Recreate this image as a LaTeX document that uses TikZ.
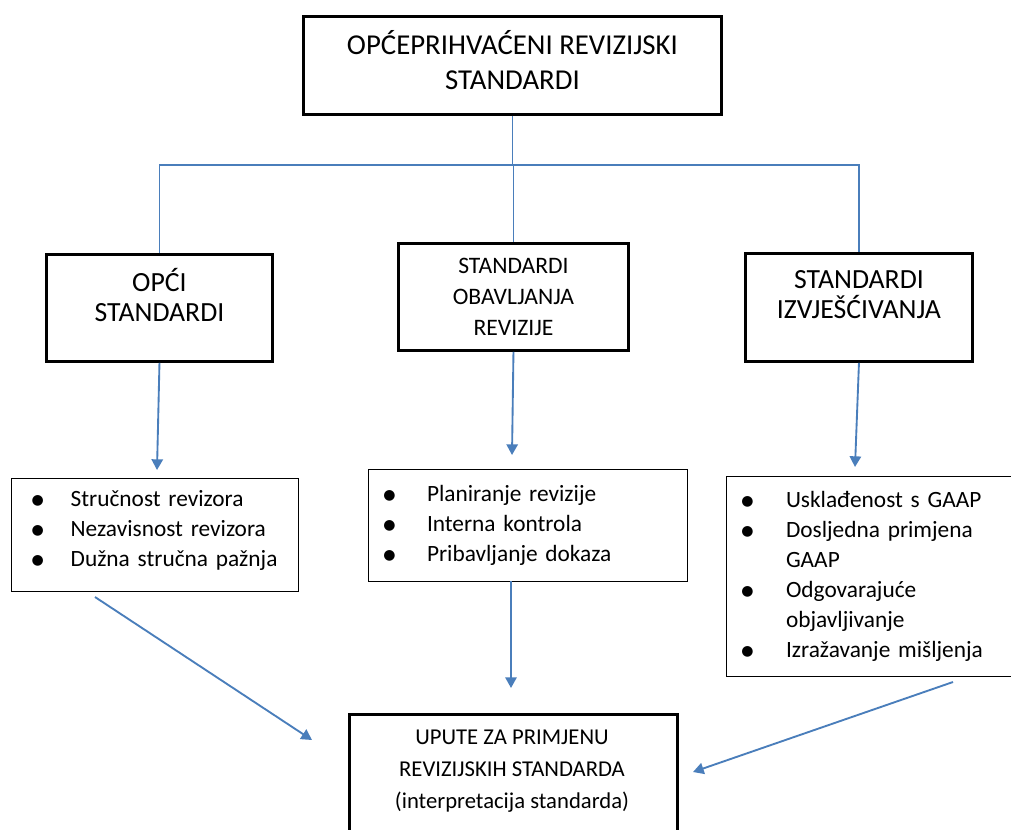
\documentclass[tikz,border=0pt]{standalone}
\usepackage{fontspec}
\setmainfont{Carlito}
\newfontfamily\symfont{DejaVu Sans}
\usetikzlibrary{arrows.meta}

\definecolor{linkblue}{RGB}{74,126,187}
% indent, then bullet in a box of given width
\newcommand{\itm}[2]{\hspace*{#1}\makebox[#2][l]{\raisebox{1.6pt}{\symfont\fontsize{10.5}{0}\selectfont ●}}}

\tikzset{
  headbox/.style={draw, line width=2.2pt, align=center, inner sep=0pt, anchor=north west},
  listbox/.style={draw, line width=1pt, align=left, inner sep=0pt, anchor=north west,
    font=\fontsize{17.5}{22.5}\selectfont},
  link/.style={linkblue, line width=1.4pt},
  arrowlink/.style={link, -{Triangle[length=8pt,width=8.5pt]}},
}

\begin{document}
\begin{tikzpicture}[x=0.75pt,y=0.75pt,yscale=-1,xscale=1]
    \useasboundingbox (0,0) rectangle (1011,829);

    % Top box
    \node[headbox, minimum width=313.5pt, minimum height=73.5pt, text depth=7.5pt,
      font=\fontsize{21.6}{26.25}\selectfont] (top) at (302,15)
      {OPĆEPRIHVAĆENI REVIZIJSKI\\STANDARDI};

    % Three groups of standards
    \node[headbox, minimum width=169.5pt, minimum height=80.25pt, text depth=19.5pt,
      font=\fontsize{20.8}{22.5}\selectfont] (opci) at (45,253)
      {OPĆI\\STANDARDI};
    \node[headbox, minimum width=172.5pt, minimum height=80.25pt,
      font=\fontsize{17.7}{23}\selectfont] (obav) at (397,242)
      {STANDARDI\\OBAVLJANJA\\REVIZIJE};
    \node[headbox, minimum width=170.25pt, minimum height=81pt, text depth=19.5pt,
      font=\fontsize{20.8}{22.5}\selectfont] (izv) at (744,252)
      {STANDARDI\\IZVJEŠĆIVANJA};

    % Lists
    \node[listbox, text width=215.25pt, minimum height=84.75pt, text depth=55pt]
      (list1) at (11,478)
      {\itm{15pt}{29.25pt}Stručnost revizora\\
       \itm{15pt}{29.25pt}Nezavisnost revizora\\
       \itm{15pt}{29.25pt}Dužna stručna pažnja};
    \node[listbox, text width=239.25pt, minimum height=84pt] (list2) at (368,469)
      {\itm{11pt}{32.75pt}Planiranje revizije\\
       \itm{11pt}{32.75pt}Interna kontrola\\
       \itm{11pt}{32.75pt}Pribavljanje dokaza};
    \node[listbox, text width=215.25pt, minimum height=150pt] (list3) at (726,476)
      {\itm{11pt}{33.5pt}Usklađenost s GAAP\\
       \itm{11pt}{33.5pt}Dosljedna primjena\\
       \hspace*{44.5pt}GAAP\\
       \itm{11pt}{33.5pt}Odgovarajuće\\
       \hspace*{44.5pt}objavljivanje\\
       \itm{11pt}{33.5pt}Izražavanje mišljenja};

    % Bottom box
    \node[headbox, minimum width=246pt, minimum height=120pt] (bottom) at (348,713) {};
    \node[align=center, inner sep=0pt, font=\fontsize{17}{24}\selectfont]
      (bottomtext) at (512,771)
      {UPUTE ZA PRIMJENU\\REVIZIJSKIH STANDARDA\\(interpretacija standarda)};

    % Tree lines
    \coordinate (split) at (top.south |- 0,165);
    \draw[link] (top.south) -- (split);
    \draw[link] (opci.north) |- (split) -| (izv.north);
    \draw[link] (split) -| (obav.north);

    % Arrows down
    \coordinate (a1) at (157,470);
    \coordinate (a2) at (512,455);
    \coordinate (a3) at (855,467);
    \draw[arrowlink] (opci.south) -- (a1);
    \draw[arrowlink] (obav.south) -- (a2);
    \draw[arrowlink] (izv.south) -- (a3);

    % Arrows to the bottom box
    \coordinate (l1out) at (95,597);
    \coordinate (l1in) at (312,740);
    \coordinate (l2out) at (511,581);
    \coordinate (l2in) at (511,688);
    \coordinate (l3out) at (953,682);
    \coordinate (l3in) at (693,772);
    \draw[arrowlink] (l1out) -- (l1in);
    \draw[arrowlink] (l2out) -- (l2in);
    \draw[arrowlink] (l3out) -- (l3in);
\end{tikzpicture}
\end{document}
